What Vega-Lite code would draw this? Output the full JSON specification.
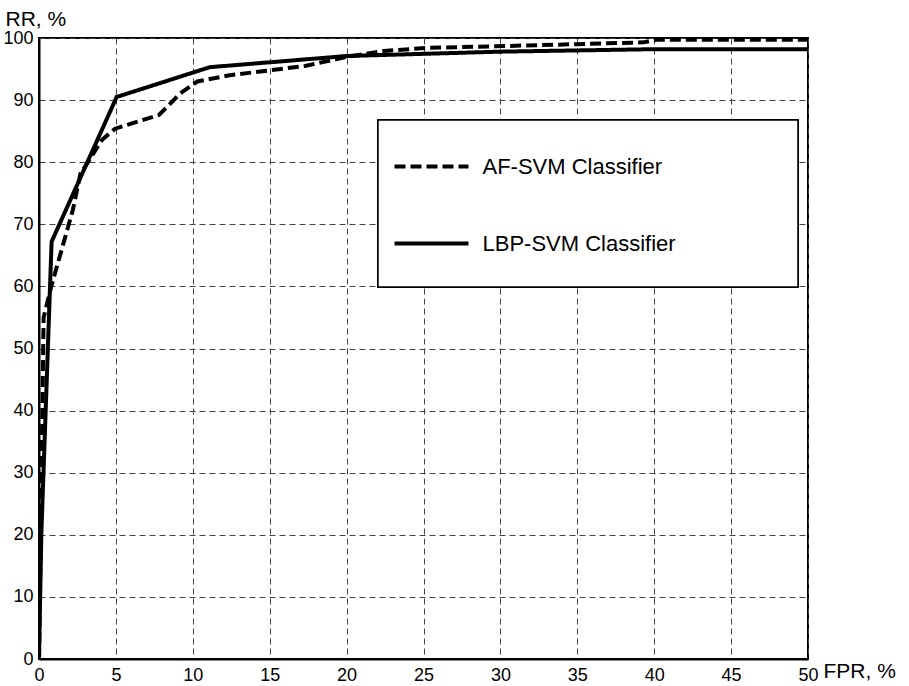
{
  "$schema": "https://vega.github.io/schema/vega-lite/v6.json",
  "autosize": {"type": "none"},
  "width": 769,
  "height": 621,
  "padding": {"left": 39, "top": 38, "right": 101, "bottom": 27},
  "background": "white",
  "config": {
    "font": "Liberation Sans",
    "view": {"stroke": "black", "strokeWidth": 2},
    "axis": {
      "domainColor": "black",
      "domainWidth": 2,
      "ticks": false,
      "gridColor": "#444444",
      "gridDash": [6, 4],
      "gridWidth": 1,
      "gridOpacity": 1,
      "labelFont": "Liberation Sans",
      "labelFontSize": 18,
      "labelColor": "black",
      "titleFont": "Liberation Sans",
      "titleFontSize": 21,
      "titleFontWeight": "normal",
      "titleColor": "black"
    }
  },
  "data": {
    "values": [
      {"series": "LBP-SVM Classifier", "fpr": 0, "rr": 0},
      {"series": "LBP-SVM Classifier", "fpr": 0.15, "rr": 20},
      {"series": "LBP-SVM Classifier", "fpr": 0.82, "rr": 67.2},
      {"series": "LBP-SVM Classifier", "fpr": 5.05, "rr": 90.5},
      {"series": "LBP-SVM Classifier", "fpr": 11.1, "rr": 95.3},
      {"series": "LBP-SVM Classifier", "fpr": 20, "rr": 97.1},
      {"series": "LBP-SVM Classifier", "fpr": 30, "rr": 97.8},
      {"series": "LBP-SVM Classifier", "fpr": 40, "rr": 98.2},
      {"series": "LBP-SVM Classifier", "fpr": 50, "rr": 98.2},
      {"series": "AF-SVM Classifier", "fpr": 0, "rr": 0},
      {"series": "AF-SVM Classifier", "fpr": 0.1, "rr": 18},
      {"series": "AF-SVM Classifier", "fpr": 0.3, "rr": 55},
      {"series": "AF-SVM Classifier", "fpr": 0.8, "rr": 60},
      {"series": "AF-SVM Classifier", "fpr": 2.2, "rr": 72.3},
      {"series": "AF-SVM Classifier", "fpr": 2.7, "rr": 78.2},
      {"series": "AF-SVM Classifier", "fpr": 3.0, "rr": 79.3},
      {"series": "AF-SVM Classifier", "fpr": 4.1, "rr": 83.6},
      {"series": "AF-SVM Classifier", "fpr": 4.95, "rr": 85.4},
      {"series": "AF-SVM Classifier", "fpr": 7.8, "rr": 87.6},
      {"series": "AF-SVM Classifier", "fpr": 9.2, "rr": 91.1},
      {"series": "AF-SVM Classifier", "fpr": 10.3, "rr": 93.0},
      {"series": "AF-SVM Classifier", "fpr": 12.4, "rr": 94.0},
      {"series": "AF-SVM Classifier", "fpr": 17.3, "rr": 95.5},
      {"series": "AF-SVM Classifier", "fpr": 20.1, "rr": 97.0},
      {"series": "AF-SVM Classifier", "fpr": 22.4, "rr": 97.9},
      {"series": "AF-SVM Classifier", "fpr": 25.2, "rr": 98.4},
      {"series": "AF-SVM Classifier", "fpr": 30.2, "rr": 98.7},
      {"series": "AF-SVM Classifier", "fpr": 34.8, "rr": 99.0},
      {"series": "AF-SVM Classifier", "fpr": 39.3, "rr": 99.3},
      {"series": "AF-SVM Classifier", "fpr": 40.1, "rr": 99.7},
      {"series": "AF-SVM Classifier", "fpr": 50, "rr": 99.7}
    ]
  },
  "layer": [
    {
      "mark": {"type": "line", "strokeWidth": 4, "clip": true},
      "encoding": {
        "x": {
          "field": "fpr",
          "type": "quantitative",
          "scale": {"domain": [0, 50], "nice": false},
          "axis": {
            "values": [0, 5, 10, 15, 20, 25, 30, 35, 40, 45, 50],
            "labelPadding": 7,
            "labelFlush": false,
            "title": "FPR, %",
            "titleAngle": 0,
            "titleAlign": "left",
            "titleBaseline": "alphabetic",
            "titleX": 784,
            "titleY": 18
          }
        },
        "y": {
          "field": "rr",
          "type": "quantitative",
          "scale": {"domain": [0, 100], "nice": false},
          "axis": {
            "values": [0, 10, 20, 30, 40, 50, 60, 70, 80, 90, 100],
            "labelPadding": 6,
            "labelFlush": false,
            "title": "RR, %",
            "titleAngle": 0,
            "titleAlign": "left",
            "titleBaseline": "alphabetic",
            "titleX": -34,
            "titleY": -13
          }
        },
        "color": {"value": "black"},
        "strokeDash": {
          "field": "series",
          "type": "nominal",
          "scale": {
            "domain": ["AF-SVM Classifier", "LBP-SVM Classifier"],
            "range": [[11, 5], [1, 0]]
          },
          "legend": {
            "title": null,
            "orient": "none",
            "legendX": 339,
            "legendY": 85,
            "padding": 4.5,
            "symbolType": "stroke",
            "symbolSize": 5476,
            "symbolStrokeWidth": 4,
            "symbolStrokeColor": "black",
            "symbolOffset": 10,
            "rowPadding": 27,
            "labelOffset": 12,
            "labelFont": "Liberation Sans",
            "labelFontSize": 22,
            "labelColor": "black",
            "labelLimit": 400
          }
        }
      }
    },
    {
      "mark": {"type": "rect", "fill": "white", "stroke": "black", "strokeWidth": 1.5},
      "encoding": {
        "x": {"datum": 22.04, "type": "quantitative"},
        "x2": {"datum": 49.35},
        "y": {"datum": 86.8, "type": "quantitative"},
        "y2": {"datum": 59.9}
      }
    }
  ]
}
